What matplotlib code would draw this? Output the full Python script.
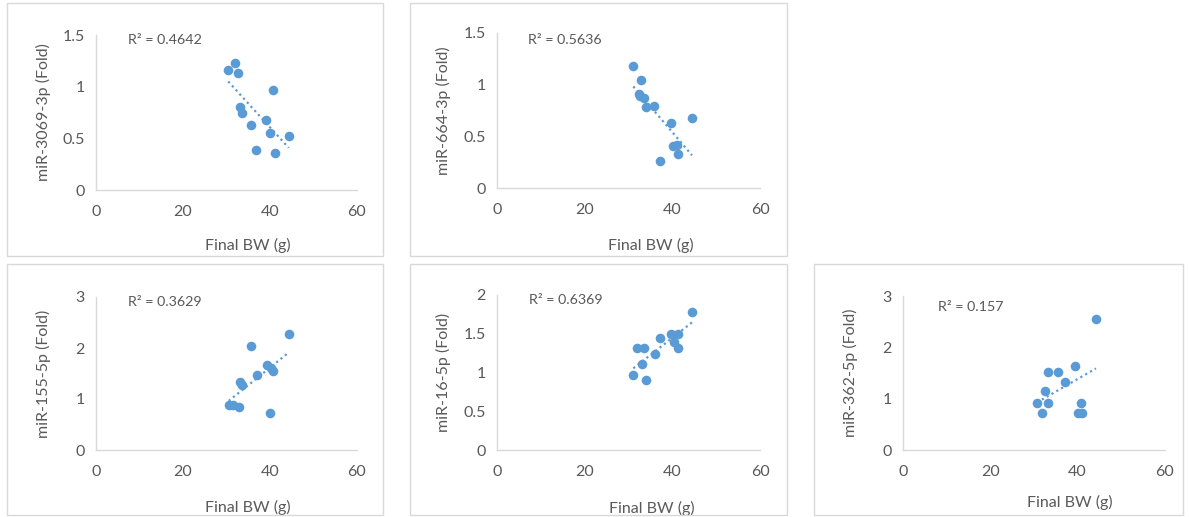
import numpy as np
import matplotlib.pyplot as plt
from matplotlib.patches import Rectangle

plt.rcParams['font.family'] = ['Lato', 'DejaVu Sans']

# final body weight (g) and fold change for each miRNA
bw_3069 = [30.4, 31.9, 32.6, 33.0, 33.5, 35.6, 36.8, 39.1, 39.9, 40.8, 41.1, 44.3]
fold_3069 = [1.16, 1.23, 1.135, 0.80, 0.75, 0.63, 0.39, 0.68, 0.555, 0.97, 0.355, 0.52]

bw_664 = [31.1, 32.9, 32.3, 32.6, 33.5, 33.9, 35.8, 37.3, 39.8, 40.2, 41.0, 41.3, 44.5]
fold_664 = [1.18, 1.05, 0.91, 0.89, 0.87, 0.78, 0.79, 0.26, 0.63, 0.41, 0.42, 0.33, 0.68]

bw_155 = [30.5, 31.6, 32.9, 33.0, 33.5, 35.6, 36.9, 39.4, 40.0, 40.3, 40.8, 44.4]
fold_155 = [0.88, 0.89, 0.85, 1.33, 1.27, 2.03, 1.48, 1.66, 0.73, 1.61, 1.55, 2.28]

bw_16 = [31.1, 32.0, 33.1, 33.6, 33.9, 36.1, 37.3, 39.8, 40.4, 41.4, 41.3, 44.5]
fold_16 = [0.97, 1.32, 1.11, 1.32, 0.90, 1.24, 1.44, 1.50, 1.40, 1.50, 1.32, 1.78]

bw_362 = [30.7, 31.8, 32.6, 33.3, 33.3, 35.4, 37.0, 39.4, 40.0, 40.7, 41.1, 44.2]
fold_362 = [0.91, 0.73, 1.15, 1.51, 0.91, 1.51, 1.33, 1.64, 0.73, 0.91, 0.73, 2.55]

r2_labels = ['R² = 0.4642', 'R² = 0.5636', 'R² = 0.3629', 'R² = 0.6369', 'R² = 0.157']
y_labels = ['miR-3069-3p (Fold)', 'miR-664-3p (Fold)', 'miR-155-5p (Fold)',
            'miR-16-5p (Fold)', 'miR-362-5p (Fold)']
y_ticks = [[0, 0.5, 1, 1.5], [0, 0.5, 1, 1.5], [0, 1, 2, 3], [0, 0.5, 1, 1.5, 2], [0, 1, 2, 3]]
x_ticks = [0, 20, 40, 60]

W, H = 1189, 517
blue = '#5B9BD5'
grey_txt = '#595959'
grey_line = '#D9D9D9'

fig = plt.figure(figsize=(W / 100, H / 100), dpi=100)

def px_rect(x0, y0, x1, y1):
    # pixel box (top-left origin) -> figure fraction [left, bottom, width, height]
    return [x0 / W, 1 - y1 / H, (x1 - x0) / W, (y1 - y0) / H]

# chart frames
frames = [(7, 3, 383, 256), (410, 3, 787, 256), (7, 264, 383, 515),
          (410, 264, 787, 515), (814, 264, 1183, 515)]
for f in frames:
    l, b, w, h = px_rect(*f)
    fig.patches.append(Rectangle((l, b), w, h, transform=fig.transFigure,
                                 fill=False, edgecolor=grey_line, lw=1))

# plot areas in pixels: x at 0, x at 60, y top, y at 0
areas = [(96, 357, 35, 190), (497, 760, 33, 188), (96, 357, 297, 450),
         (497, 760, 295, 450), (903, 1165, 296, 450)]
r2_pos = [(128, 40), (528, 40), (128, 302), (529, 300), (938, 307)]
xlab_pos = [(248, 245), (651, 245), (248, 507), (652, 508), (1070, 502)]
ylab_x = [43, 443, 43, 443, 850]

data = [(bw_3069, fold_3069), (bw_664, fold_664), (bw_155, fold_155),
        (bw_16, fold_16), (bw_362, fold_362)]

for i, (x, y) in enumerate(data):
    x0, x1, yt, yb = areas[i]
    ax = fig.add_axes(px_rect(x0, yt, x1, yb))
    x = np.array(x)
    y = np.array(y)
    ax.scatter(x, y, s=48, color=blue, zorder=3, linewidths=0)
    k, c = np.polyfit(x, y, 1)
    xs = np.array([x.min(), x.max()])
    ax.plot(xs, k * xs + c, ls=(0, (1, 1.5)), color=blue, lw=1.6, zorder=2)

    ax.set_xlim(0, 60)
    ax.set_ylim(0, y_ticks[i][-1])
    ax.set_xticks(x_ticks)
    ax.set_yticks(y_ticks[i])
    ax.set_yticklabels([f'{t:g}' for t in y_ticks[i]])
    ax.tick_params(length=0, labelsize=11.5, colors=grey_txt)
    ax.tick_params(axis='x', pad=11)
    ax.tick_params(axis='y', pad=8)
    for s in ['top', 'right']:
        ax.spines[s].set_visible(False)
    for s in ['left', 'bottom']:
        ax.spines[s].set_color(grey_line)
        ax.spines[s].set_linewidth(1)
    ax.patch.set_alpha(0)

    xl = ax.set_xlabel('Final BW (g)', fontsize=11.5, color=grey_txt)
    yl = ax.set_ylabel(y_labels[i], fontsize=11.5, color=grey_txt)
    xl.set_va('center')
    yl.set_va('center')
    wpx, hpx = x1 - x0, yb - yt
    ax.xaxis.set_label_coords((xlab_pos[i][0] - x0) / wpx, -(xlab_pos[i][1] - yb) / hpx)
    ax.yaxis.set_label_coords((ylab_x[i] - x0) / wpx, 0.5)

    tx, ty = r2_pos[i]
    fig.text(tx / W, 1 - ty / H, r2_labels[i], fontsize=10.3, color=grey_txt,
             ha='left', va='center')

fig.savefig('out.png', dpi=100, facecolor='white')
